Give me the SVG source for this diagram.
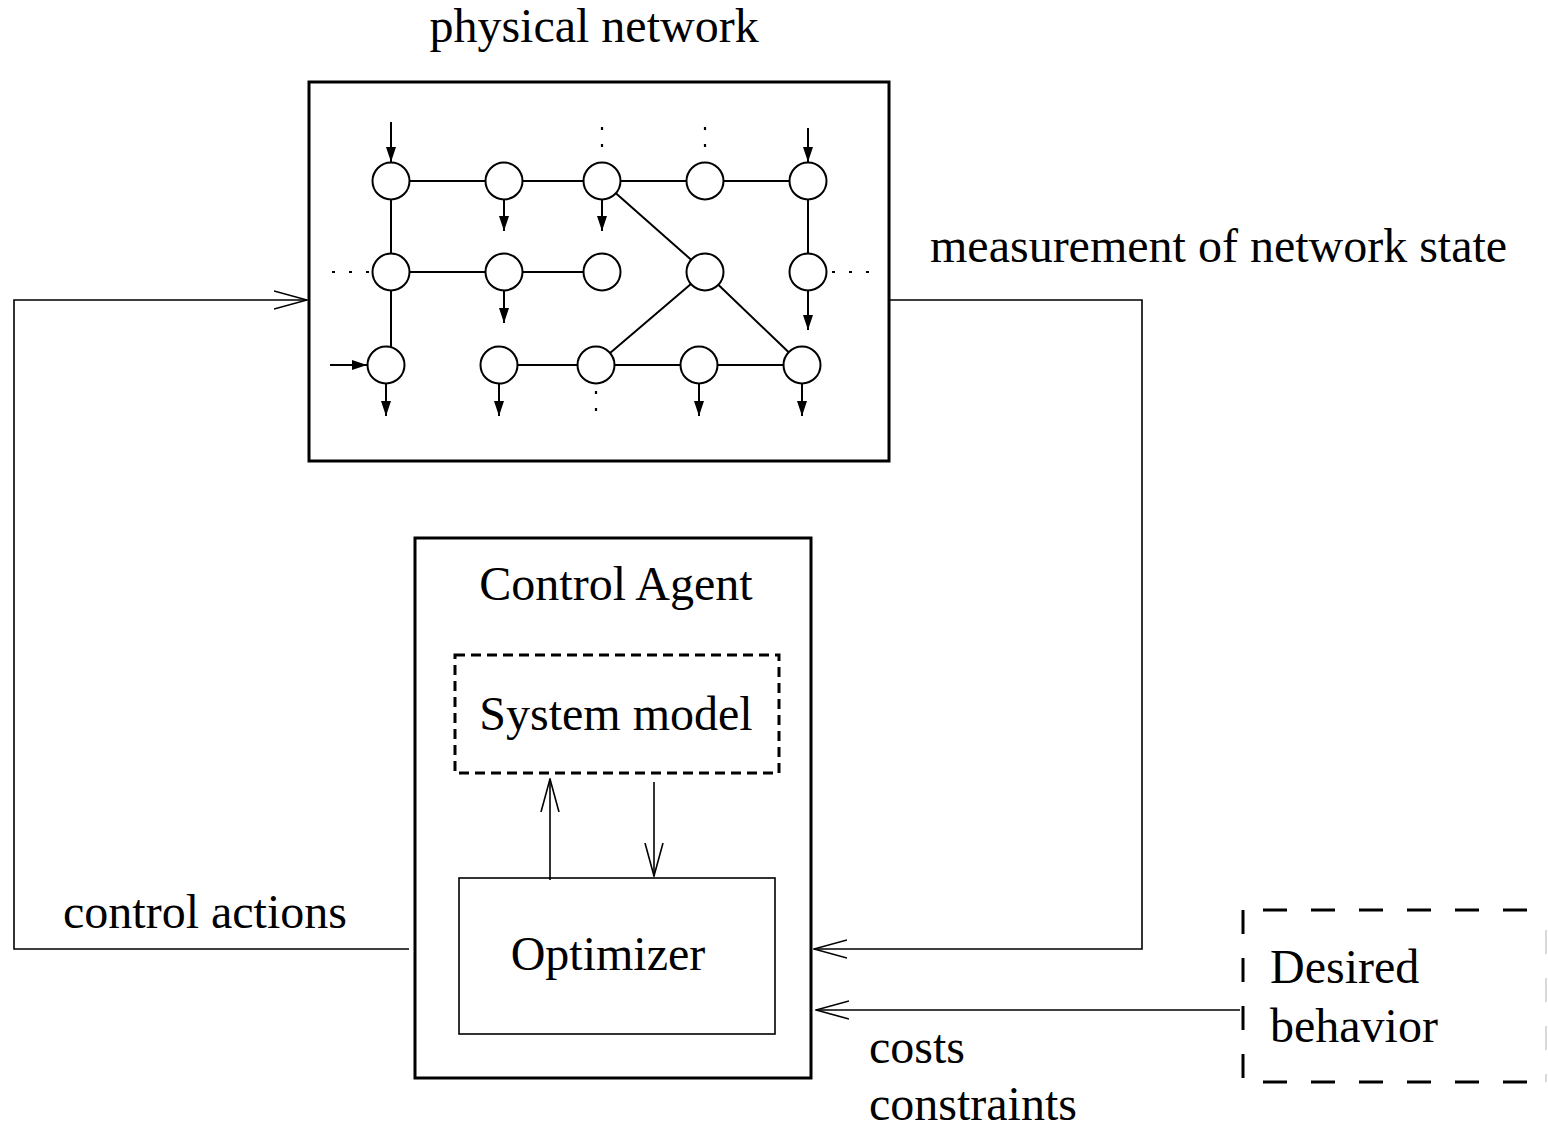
<svg xmlns="http://www.w3.org/2000/svg" width="1548" height="1127" viewBox="0 0 1548 1127">
<style>
text{font-family:"Liberation Serif","Times New Roman",serif;font-size:48px;fill:#000}
.n{fill:#fff;stroke:#000;stroke-width:2}
.e{stroke:#000;stroke-width:2;fill:none}
.d{stroke:#000;stroke-width:2.2;stroke-dasharray:3 14;fill:none}
.f{stroke:#000;stroke-width:2;fill:none;marker-end:url(#fa)}
.o{stroke:#000;stroke-width:1.6;fill:none;marker-end:url(#oa)}
</style>
<defs>
<marker id="fa" viewBox="0 0 15 10" refX="15" refY="5" markerWidth="15" markerHeight="10" markerUnits="userSpaceOnUse" orient="auto"><path d="M0,0 L15,5 L0,10 z" fill="#000"/></marker>
<marker id="oa" viewBox="0 0 34 20" refX="33" refY="10" markerWidth="34" markerHeight="20" markerUnits="userSpaceOnUse" orient="auto"><path d="M0,1 L33,10 L0,19" fill="none" stroke="#000" stroke-width="1.6"/></marker>
</defs>

<g id="physical-network">
<text x="594" y="42" text-anchor="middle">physical network</text>
<rect x="309" y="82" width="580" height="379" fill="none" stroke="#000" stroke-width="3"/>
<g id="net-edges">
<path class="e" d="M391,181 H808 M391,181 V365 M391,272 H602 M808,181 V272 M602,181 L705,272 L596,365 M705,272 L802,365 M499,365 H802"/>
<path class="d" d="M602,127 V150 M705,127 V150 M332,272 H372 M832,272 H872 M596,391 V412"/>
<path class="f" d="M391,122 V162"/>
<path class="f" d="M808,128 V162"/>
<path class="f" d="M330,365 H367"/>
<path class="f" d="M504,199 V231"/>
<path class="f" d="M602,199 V231"/>
<path class="f" d="M504,291 V323"/>
<path class="f" d="M808,291 V330"/>
<path class="f" d="M386,384 V416"/>
<path class="f" d="M499,384 V416"/>
<path class="f" d="M699,384 V416"/>
<path class="f" d="M802,384 V416"/>
</g>
<g id="net-nodes">
<circle class="n" cx="391" cy="181" r="18.5"/>
<circle class="n" cx="504" cy="181" r="18.5"/>
<circle class="n" cx="602" cy="181" r="18.5"/>
<circle class="n" cx="705" cy="181" r="18.5"/>
<circle class="n" cx="808" cy="181" r="18.5"/>
<circle class="n" cx="391" cy="272" r="18.5"/>
<circle class="n" cx="504" cy="272" r="18.5"/>
<circle class="n" cx="602" cy="272" r="18.5"/>
<circle class="n" cx="705" cy="272" r="18.5"/>
<circle class="n" cx="808" cy="272" r="18.5"/>
<circle class="n" cx="386" cy="365" r="18.5"/>
<circle class="n" cx="499" cy="365" r="18.5"/>
<circle class="n" cx="596" cy="365" r="18.5"/>
<circle class="n" cx="699" cy="365" r="18.5"/>
<circle class="n" cx="802" cy="365" r="18.5"/>
</g>
</g>

<g id="control-agent">
<rect x="415" y="538" width="396" height="540" fill="none" stroke="#000" stroke-width="3"/>
<text x="616" y="600" text-anchor="middle">Control Agent</text>
</g>

<g id="system-model">
<rect x="455" y="655" width="324" height="118" fill="none" stroke="#000" stroke-width="3" stroke-dasharray="10 6"/>
<text x="616" y="730" text-anchor="middle">System model</text>
</g>

<g id="optimizer">
<rect x="459" y="878" width="316" height="156" fill="none" stroke="#000" stroke-width="1.6"/>
<text x="608" y="970" text-anchor="middle">Optimizer</text>
</g>

<g id="desired-behavior">
<path d="M1243,910 V1082 M1263,910 H1548 M1263,1082 H1548" fill="none" stroke="#000" stroke-width="3" stroke-dasharray="24 24"/>
<path d="M1546,930 V1082" fill="none" stroke="#ccc" stroke-width="1.5" stroke-dasharray="24 24"/>
<text x="1270" y="983">Desired</text>
<text x="1270" y="1042">behavior</text>
</g>

<g id="connectors">
<path class="o" d="M889,300 H1142 V949 H814"/>
<path class="o" d="M409,949 H14 V300 H307"/>
<path class="o" d="M1240,1010 H816"/>
<path class="o" d="M550,880 V779"/>
<path class="o" d="M654,782 V876"/>
<text x="930" y="262">measurement of network state</text>
<text x="63" y="928">control actions</text>
<text x="869" y="1063">costs</text>
<text x="869" y="1120">constraints</text>
</g>
</svg>
